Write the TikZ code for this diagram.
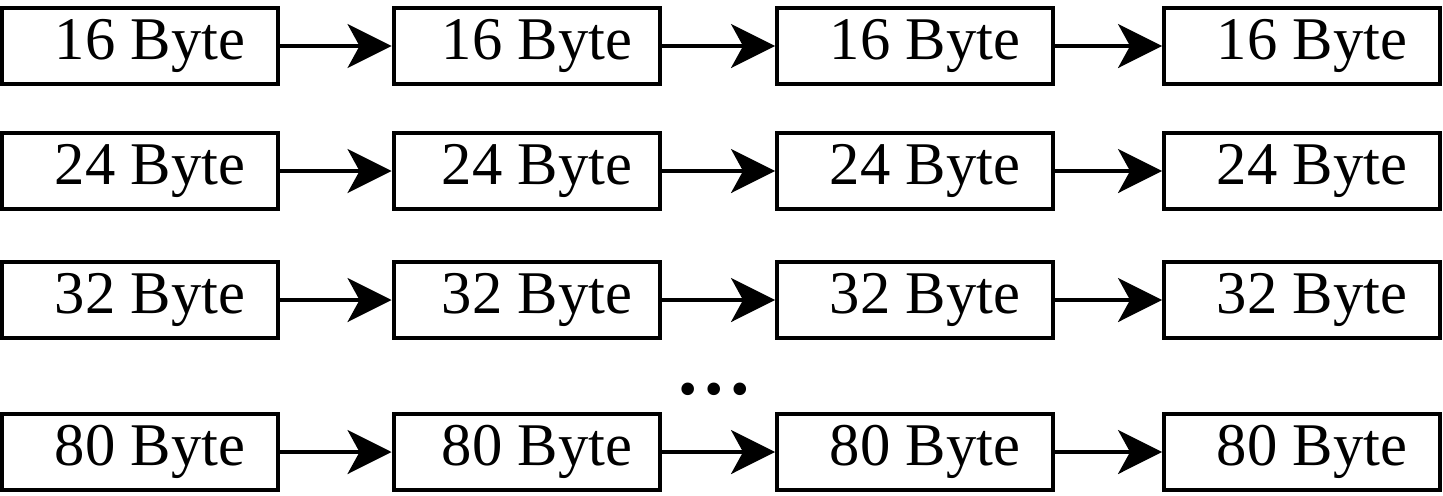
\documentclass[tikz,border=0pt]{standalone}
\usepackage{fontspec}
\setmainfont{Liberation Serif}
\usetikzlibrary{arrows.meta}

\tikzset{
  buf/.style={draw, line width=0.08cm, minimum height=1.52cm, minimum width=5.52cm,
    inner sep=0pt, font=\fontsize{34.5}{40}\selectfont},
  link/.style={line width=0.07cm, -{Stealth[length=0.88cm, width=0.88cm, inset=0.24cm]}}
}

\begin{document}
\begin{tikzpicture}[x=0.02cm, y=-0.02cm]
        \useasboundingbox (0,0) rectangle (1443,495);
        % Draw the boxes, one row per size
        \foreach \r/\y/\s in {1/46/16, 2/171/24, 3/300/32, 4/452/80} {
          \node[buf] (b\r1) at (140,\y) {\hspace{0.4cm}\s\ Byte};
          \node[buf, minimum width=5.34cm] (b\r2) at (527,\y) {\hspace{0.4cm}\s\ Byte};
          \node[buf] (b\r3) at (915,\y) {\hspace{0.4cm}\s\ Byte};
          \node[buf] (b\r4) at (1302,\y) {\hspace{0.4cm}\s\ Byte};
          % Draw arrows
          \draw[link] (b\r1) -- (b\r2);
          \draw[link] (b\r2) -- (b\r3);
          \draw[link] (b\r3) -- (b\r4);
        }
        % Draw the dots
        \node[font=\fontsize{44}{44}\selectfont\bfseries] (dots) at (714,389) {\ldots};
\end{tikzpicture}
\end{document}
